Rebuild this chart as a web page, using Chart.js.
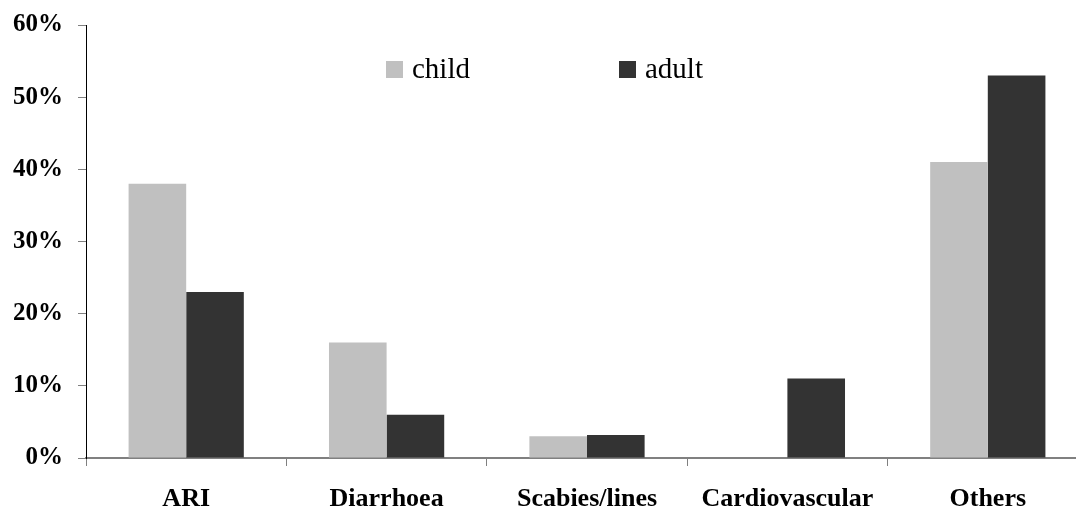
<!DOCTYPE html>
<html>
<head>
<meta charset="utf-8">
<script src="https://cdn.jsdelivr.net/npm/chart.js@4.4.1/dist/chart.umd.min.js"></script>
<style>
  html, body { margin: 0; padding: 0; background: #fff; overflow: hidden; }
  #wrap { width: 1100px; height: 507px; position: relative; }
</style>
</head>
<body>
<div id="wrap"><canvas id="chart"></canvas></div>
<script>
// Share of consultations by diagnosis group (%)
const categories = ['ARI', 'Diarrhoea', 'Scabies/lines', 'Cardiovascular', 'Others'];
const childValues = [38, 16, 3, 0, 41];
const adultValues = [23, 6, 3.2, 11, 53];
const yTicks = [0, 10, 20, 30, 40, 50, 60];

const serif = '"Liberation Serif", "Times New Roman", serif';

// Legend drawn inside the plot area, items spread apart
const innerLegend = {
  id: 'innerLegend',
  afterDraw(chart) {
    const ctx = chart.ctx;
    const spots = [386, 619];
    ctx.save();
    ctx.font = '29px ' + serif;
    ctx.textBaseline = 'middle';
    ctx.textAlign = 'left';
    chart.data.datasets.forEach((ds, i) => {
      const x = spots[i];
      ctx.fillStyle = ds.backgroundColor;
      ctx.fillRect(x, 61, 17, 17);
      ctx.fillStyle = '#000';
      ctx.fillText(ds.label, x + 26, 70);
    });
    ctx.restore();
  }
};

new Chart(document.getElementById('chart'), {
  type: 'bar',
  data: {
    labels: categories,
    datasets: [
      { label: 'child', data: childValues, backgroundColor: '#c0c0c0' },
      { label: 'adult', data: adultValues, backgroundColor: '#333333' }
    ]
  },
  options: {
    responsive: true,
    maintainAspectRatio: false,
    animation: false,
    devicePixelRatio: 1,
    layout: { padding: { top: 25, right: 12, left: 0, bottom: 0 } },
    plugins: { legend: { display: false }, tooltip: { enabled: false } },
    datasets: { bar: { barPercentage: 1, categoryPercentage: 0.575 } },
    scales: {
      x: {
        grid: { display: true, drawOnChartArea: false, offset: true, tickLength: 8, color: '#808080', lineWidth: 1 },
        border: { display: true, color: '#808080', width: 2 },
        ticks: { color: '#000', font: { family: serif, size: 26, weight: 'bold' }, padding: 18, maxRotation: 0 },
        afterFit(scale) {
          scale.height = 49;
          scale.paddingLeft = 0;
          scale.paddingRight = 0;
        }
      },
      y: {
        min: 0, max: 60,
        afterBuildTicks(scale) { scale.ticks = yTicks.map(v => ({ value: v })); },
        grid: { display: true, drawOnChartArea: false, tickLength: 8, color: '#808080', lineWidth: 1 },
        border: { display: true, color: '#000', width: 1 },
        ticks: { color: '#000', font: { family: serif, size: 25, weight: 'bold' }, padding: 15, callback: v => v + '%' },
        afterFit(scale) {
          scale.width = 86;
          scale.paddingTop = 0;
          scale.paddingBottom = 0;
        }
      }
    }
  },
  plugins: [innerLegend]
});
</script>
</body>
</html>
